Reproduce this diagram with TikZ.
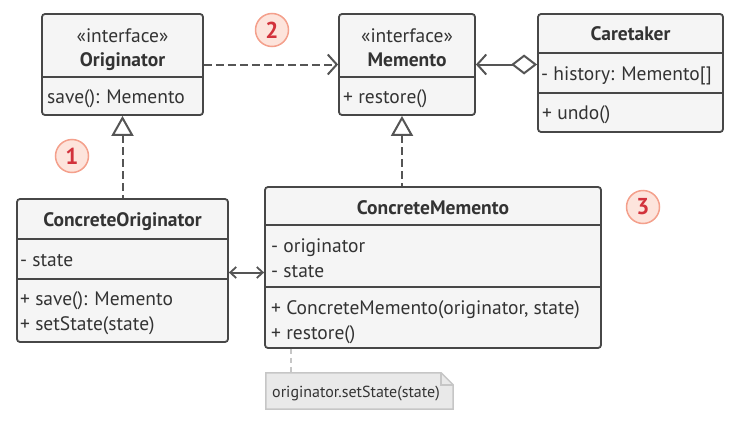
\documentclass[tikz,border=0pt]{standalone}
\usepackage{fontspec}
\setmainfont{PT Sans}
\usetikzlibrary{arrows.meta,calc}

\definecolor{boxfill}{HTML}{F5F5F5}
\definecolor{boxline}{HTML}{474747}
\definecolor{txt}{HTML}{333333}
\definecolor{linkc}{HTML}{555555}
\definecolor{notefill}{HTML}{E9E9E9}
\definecolor{noteline}{HTML}{C6C6C6}
\definecolor{badgefill}{HTML}{FDE4DC}
\definecolor{badgeline}{HTML}{F4A08C}
\definecolor{badgetext}{HTML}{D2323C}

\tikzset{
  classbox/.style={draw=boxline, fill=boxfill, line width=1.8pt, rounded corners=3pt, inner sep=0pt},
  sepline/.style={draw=boxline, line width=1.8pt},
  member/.style={anchor=base west, inner sep=0pt, text=txt, font=\fontsize{19.5}{22}\selectfont},
  title/.style={anchor=base, inner sep=0pt, text=txt, font=\fontsize{19.5}{22}\selectfont\bfseries},
  stereo/.style={anchor=base, inner sep=0pt, text=txt, font=\fontsize{19.5}{22}\selectfont},
  dep/.style={draw=linkc, line width=2pt, dash pattern=on 8pt off 4pt},
  assoc/.style={draw=linkc, line width=2pt},
  barb/.tip={Straight Barb[length=9pt, width=20pt, line width=2pt]},
  smallbarb/.tip={Straight Barb[length=6pt, width=11pt, line width=1.8pt]},
  hollowtri/.tip={Triangle[open, length=20pt, width=22pt, line width=2pt, fill=white]},
  hollowdia/.tip={Diamond[open, length=26pt, width=20pt, line width=2pt, fill=white]},
  badge/.style={circle, draw=badgeline, fill=badgefill, line width=1.5pt, minimum size=33pt, inner sep=0pt,
                text=badgetext, font=\fontsize{23}{24}\selectfont\bfseries},
}

\begin{document}
\begin{tikzpicture}[x=1pt, y=-1pt]
\useasboundingbox (0,0) rectangle (738,423);

% ---- Originator interface
\node[classbox, minimum width=161pt, minimum height=101pt] (orig) at (122.5,64.5) {};
\draw[sepline] (orig.west |- 0,77) -- (orig.east |- 0,77);
\node[stereo] (origst) at (122.5,42) {«interface»};
\node[title] (origt) at (122.5,66) {Originator};
\node[member] (origm1) at (47,103) {save(): Memento};

% ---- Memento interface
\node[classbox, minimum width=136pt, minimum height=101pt] (mem) at (407,64.5) {};
\draw[sepline] (mem.west |- 0,77) -- (mem.east |- 0,77);
\node[stereo] (memst) at (407,42) {«interface»};
\node[title] (memt) at (407,66) {Memento};
\node[member] (memm1) at (343,103) {+ restore()};

% ---- Caretaker
\node[classbox, minimum width=185pt, minimum height=118pt] (care) at (630.5,73) {};
\draw[sepline] (care.west |- 0,53) -- (care.east |- 0,53);
\draw[sepline] (care.west |- 0,93) -- (care.east |- 0,93);
\node[title] (caret) at (630.5,40.5) {Caretaker};
\node[member] (carea1) at (541,80) {- history: Memento[]};
\node[member] (carem1) at (542,119) {+ undo()};

% ---- ConcreteOriginator
\node[classbox, minimum width=211pt, minimum height=143pt] (corig) at (122.5,270.5) {};
\draw[sepline] (corig.west |- 0,239) -- (corig.east |- 0,239);
\draw[sepline] (corig.west |- 0,279) -- (corig.east |- 0,279);
\node[title] (corigt) at (122.5,226) {ConcreteOriginator};
\node[member] (coriga1) at (20,266) {- state};
\node[member] (corigm1) at (20,305) {+ save(): Memento};
\node[member] (corigm2) at (20,330) {+ setState(state)};

% ---- ConcreteMemento
\node[classbox, minimum width=336pt, minimum height=161pt] (cmem) at (433,267.5) {};
\draw[sepline] (cmem.west |- 0,225) -- (cmem.east |- 0,225);
\draw[sepline] (cmem.west |- 0,287) -- (cmem.east |- 0,287);
\node[title] (cmemt) at (433,214) {ConcreteMemento};
\node[member] (cmema1) at (271,252) {- originator};
\node[member] (cmema2) at (271,277) {- state};
\node[member] (cmemm1) at (271,314) {+ ConcreteMemento(originator, state)};
\node[member] (cmemm2) at (271,339) {+ restore()};

% ---- note with folded corner
\node[minimum width=187pt, minimum height=36pt, inner sep=0pt] (note) at (359.5,391) {};
\draw[draw=noteline, fill=notefill, line width=1.5pt]
  (note.north west) -- ([xshift=-12pt]note.north east) -- ([yshift=-12pt]note.north east)
  -- (note.south east) -- (note.south west) -- cycle;
\draw[draw=noteline, line width=1.5pt]
  ([xshift=-12pt]note.north east) -- ([xshift=-12pt, yshift=-12pt]note.north east) -- ([yshift=-12pt]note.north east);
\node[anchor=base west, inner sep=0pt, text=txt, font=\fontsize{16}{18}\selectfont] (notet) at (272,397.5) {originator.setState(state)};

% ---- connectors
\draw[dep, -{barb}] (orig.east) -- (mem.west);
\draw[assoc, {hollowdia}-{barb}] (care.west |- mem.east) -- (mem.east);
\draw[dep, {hollowtri}-] (orig.south) -- (corig.north);
\coordinate (memfoot) at ([xshift=-5pt]mem.south);
\draw[dep, {hollowtri}-] (memfoot) -- (memfoot |- cmem.north);
\draw[assoc, {smallbarb}-{smallbarb}] ([yshift=-2pt]corig.east) -- ([yshift=-2pt]corig.east -| cmem.west);
\coordinate (notehook) at ([xshift=25pt]note.north west);
\draw[draw=noteline, line width=1.5pt, dash pattern=on 5pt off 4pt] (notehook |- cmem.south) -- (notehook);

% ---- step badges
\node[badge] (b1) at (72,156) {1};
\node[badge] (b2) at (272,30) {2};
\node[badge] (b3) at (643,207) {3};
\end{tikzpicture}
\end{document}
